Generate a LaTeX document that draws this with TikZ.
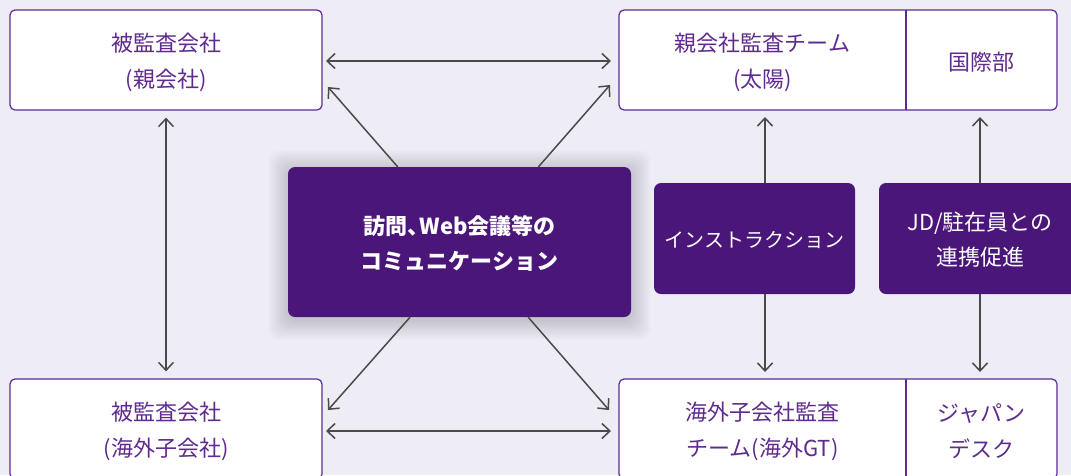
\documentclass[tikz,border=0pt]{standalone}
\usepackage{fontspec}
\setmainfont{Noto Sans CJK JP}
\usetikzlibrary{arrows.meta,calc}
\definecolor{bg}{HTML}{EEECF5}
\definecolor{bord}{HTML}{5E2A97}
\definecolor{txt}{HTML}{5F2B8E}
\definecolor{dark}{HTML}{4B1679}
\definecolor{arr}{HTML}{4A4A4A}
\begin{document}
\begin{tikzpicture}[x=1pt,y=-1pt,
  wbox/.style={draw=bord, line width=1.2pt, fill=white, rounded corners=5pt, inner sep=0pt},
  lbl/.style={text=txt, font=\fontsize{22}{36}\selectfont, align=center},
  dbox/.style={fill=dark, rounded corners=7pt, inner sep=0pt},
  dlbl/.style={text=white, font=\fontsize{22}{35}\selectfont, align=center},
  conn/.style={draw=arr, line width=1.5pt},
  both/.style={conn, {Straight Barb[length=8pt,width=15pt]}-{Straight Barb[length=8pt,width=15pt]}},
  one/.style={conn, -{Straight Barb[length=8pt,width=15pt]}}]
\useasboundingbox (0,0) rectangle (1071,475);
\clip (0,0) rectangle (1071,475);
\fill[bg] (0,0) rectangle (1071,475);

% white boxes
\node[wbox, minimum width=312pt, minimum height=100pt] (tl) at (166,60) {};
\node[lbl] (tlt) at (166,62) {被監査会社\\(親会社)};
\node[wbox, minimum width=438pt, minimum height=100pt] (tr) at (838,60) {};
\coordinate (trdA) at (906,10);
\coordinate (trdB) at (906,110);
\draw[bord, line width=1.2pt] (trdA) -- (trdB);
\node[lbl] (trt) at (762.5,62) {親会社監査チーム\\(太陽)};
\node[lbl] (trk) at (981.5,62) {国際部};

\node[wbox, minimum width=312pt, minimum height=100pt] (bl) at (166,429) {};
\node[lbl] (blt) at (166,431) {被監査会社\\(海外子会社)};
\node[wbox, minimum width=438pt, minimum height=100pt] (br) at (838,429) {};
\coordinate (brdA) at (906,379);
\coordinate (brdB) at (906,479);
\draw[bord, line width=1.2pt] (brdA) -- (brdB);
\node[lbl] (brt) at (762.5,431) {海外子会社監査\\チーム(海外GT)};
\node[lbl] (brk) at (981.5,431) {ジャパン\\デスク};

% centre box with soft shadow
\foreach \i in {1,...,20}
  \fill[black, opacity=0.007, rounded corners=10pt] ({288-\i},{167-\i+3}) rectangle ({631+\i},{317+\i+3});
\node[dbox, minimum width=343pt, minimum height=150pt] (cb) at (459.5,242) {};
\node[dlbl, font=\fontsize{22}{35}\selectfont\bfseries] (cbt) at (459.5,243) {訪問、\kern-0.45em Web会議等の\\コミュニケーション};

\node[dbox, minimum width=201pt, minimum height=111pt] (ins) at (754.5,238.5) {};
\node[dlbl, font=\fontsize{20}{35}\selectfont] (inst) at (754.5,240) {インストラクション};
\node[dbox, minimum width=202pt, minimum height=111pt] (jd) at (980,238.5) {};
\node[dlbl] (jdt) at (980,240) {JD/駐在員との\\連携促進};

% connectors
\coordinate (h1a) at (322,61);
\coordinate (h1b) at (619,61);
\draw[both, shorten <=4pt, shorten >=8pt] (h1a) -- (h1b);
\coordinate (h2a) at (322,431);
\coordinate (h2b) at (619,431);
\draw[both, shorten <=4pt, shorten >=8pt] (h2a) -- (h2b);
\draw[both, shorten <=7pt, shorten >=7pt] (tl.south) -- (bl.north);

\coordinate (d1s) at ($(cb.north west)!0.32!(cb.north east)$);
\coordinate (d1e) at (328,87);
\coordinate (d2s) at ($(cb.north west)!0.73!(cb.north east)$);
\coordinate (d2e) at (610,85);
\coordinate (d3s) at ($(cb.south west)!0.356!(cb.south east)$);
\coordinate (d3e) at (328,410);
\coordinate (d4s) at ($(cb.south west)!0.70!(cb.south east)$);
\coordinate (d4e) at (609,410);
\draw[one] (d1s) -- (d1e);
\draw[one] (d2s) -- (d2e);
\draw[one] (d3s) -- (d3e);
\draw[one] (d4s) -- (d4e);

\coordinate (v1a) at (765,183);
\coordinate (v1b) at (765,110);
\coordinate (v1c) at (765,294);
\coordinate (v1d) at (765,379);
\draw[one, shorten >=7pt] (v1a) -- (v1b);
\draw[one, shorten >=7pt] (v1c) -- (v1d);
\coordinate (v2a) at (980,183);
\coordinate (v2b) at (980,110);
\coordinate (v2c) at (980,294);
\coordinate (v2d) at (980,379);
\draw[one, shorten >=7pt] (v2a) -- (v2b);
\draw[one, shorten >=7pt] (v2c) -- (v2d);
\end{tikzpicture}
\end{document}
